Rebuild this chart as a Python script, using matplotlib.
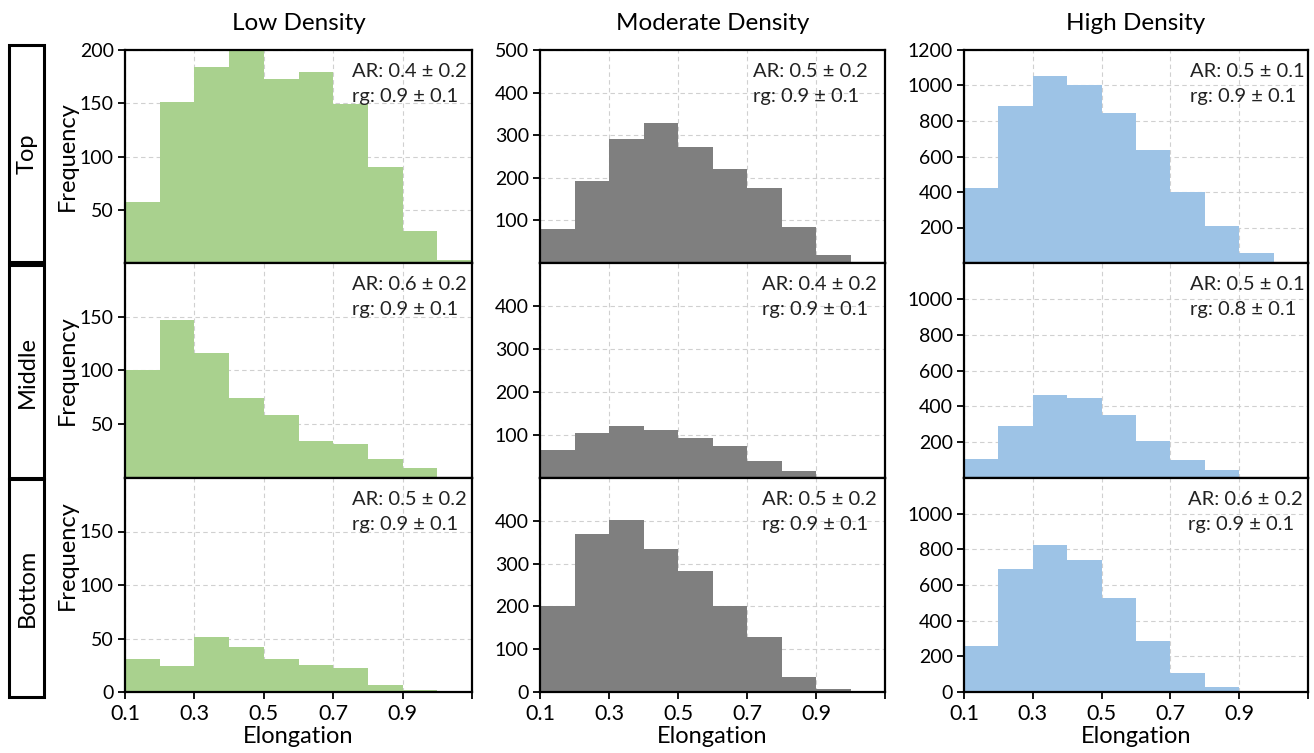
import matplotlib
matplotlib.use("Agg")
import matplotlib.pyplot as plt
from matplotlib.patches import Rectangle
import numpy as np

plt.rcParams['font.family'] = ['Lato', 'DejaVu Sans']

# ---- data ----
bin_edges = [0.1, 0.2, 0.3, 0.4, 0.5, 0.6, 0.7, 0.8, 0.9, 1.0, 1.1]
col_titles = ["Low Density", "Moderate Density", "High Density"]
row_titles = ["Top", "Middle", "Bottom"]

low_top = [57, 151, 184, 200, 173, 179, 149, 90, 30, 2.5]
low_middle = [100, 147, 116, 74, 59, 34, 32, 18, 9, 0]
low_bottom = [31, 24, 51, 42.5, 31, 25, 22, 7, 1.5, 0]

mod_top = [80, 192, 292, 328, 273, 221, 176, 84, 19, 0]
mod_middle = [66, 105, 120, 111, 93, 74, 39, 16, 2, 0]
mod_bottom = [202, 368, 402, 333, 283, 202, 129, 36, 8, 0]

high_top = [420, 884, 1054, 1004, 845, 638, 400, 209, 56, 0]
high_middle = [107, 290, 461, 448, 349, 207, 98, 44, 0, 0]
high_bottom = [258, 692, 824, 742, 525, 284, 108, 30, 0, 0]

ar_text = [["AR: 0.4 \u00b1 0.2", "AR: 0.5 \u00b1 0.2", "AR: 0.5 \u00b1 0.1"],
           ["AR: 0.6 \u00b1 0.2", "AR: 0.4 \u00b1 0.2", "AR: 0.5 \u00b1 0.1"],
           ["AR: 0.5 \u00b1 0.2", "AR: 0.5 \u00b1 0.2", "AR: 0.6 \u00b1 0.2"]]
rg_text = [["rg: 0.9 \u00b1 0.1", "rg: 0.9 \u00b1 0.1", "rg: 0.9 \u00b1 0.1"],
           ["rg: 0.9 \u00b1 0.1", "rg: 0.9 \u00b1 0.1", "rg: 0.8 \u00b1 0.1"],
           ["rg: 0.9 \u00b1 0.1", "rg: 0.9 \u00b1 0.1", "rg: 0.9 \u00b1 0.1"]]

y_max = [200, 500, 1200]
y_ticks = [
    [[50, 100, 150, 200], [100, 200, 300, 400, 500], [200, 400, 600, 800, 1000, 1200]],
    [[50, 100, 150], [100, 200, 300, 400], [200, 400, 600, 800, 1000]],
    [[0, 50, 100, 150], [0, 100, 200, 300, 400], [0, 200, 400, 600, 800, 1000]],
]
x_ticks = [0.1, 0.3, 0.5, 0.7, 0.9, 1.1]
x_ticklabels = ["0.1", "0.3", "0.5", "0.7", "0.9", ""]

counts = [[low_top, mod_top, high_top],
          [low_middle, mod_middle, high_middle],
          [low_bottom, mod_bottom, high_bottom]]
colors = ["#a9d18e", "#7f7f7f", "#9dc3e6"]

# ---- layout (pixels) ----
W, H = 1314, 753
fig = plt.figure(figsize=(W / 100, H / 100), dpi=100)
col_x = [(125, 472), (540, 885), (964, 1308)]
row_y = [(50, 263), (263, 478), (478, 692)]
text_x = [[0.985, 0.95, 0.99], [0.985, 0.975, 0.99], [0.985, 0.975, 0.985]]

def fx(px):
    return px / W

def fy(py):
    return 1 - py / H

widths = np.diff(bin_edges)
for r in range(3):
    for c in range(3):
        x0, x1 = col_x[c]
        y0, y1 = row_y[r]
        ax = fig.add_axes([fx(x0), fy(y1), fx(x1) - fx(x0), (y1 - y0) / H])
        ax.set_axisbelow(True)
        ax.bar(bin_edges[:-1], counts[r][c], width=widths, align='edge',
               color=colors[c], edgecolor='none', linewidth=0)
        ax.set_xlim(0.1, 1.1)
        ax.set_ylim(0, y_max[c])
        ax.set_xticks(x_ticks)
        ax.set_yticks(y_ticks[r][c])
        ax.grid(True, linestyle=(0, (4, 3)), color='#d0d0d0', linewidth=0.8)
        ax.tick_params(direction='out', length=5, width=1.3, labelsize=14,
                       colors='black', pad=3)
        ax.tick_params(axis='x', labelsize=15.5, pad=4)
        for s in ax.spines.values():
            s.set_linewidth(1.6)
            s.set_color('black')
        if r == 2:
            ax.set_xticklabels(x_ticklabels)
            ax.set_xlabel("Elongation", fontsize=17, labelpad=1)
        else:
            ax.tick_params(axis='x', labelbottom=False)
        if c == 0:
            ax.set_ylabel("Frequency", fontsize=17)
            ax.yaxis.set_label_coords(-0.135, 0.64 if r == 2 else 0.5)
        ax.text(text_x[r][c], 0.94, ar_text[r][c] + "\n" + rg_text[r][c],
                transform=ax.transAxes, ha='right', va='top',
                multialignment='left', fontsize=14.5, color='#222222',
                linespacing=1.6)

# column titles
for c in range(3):
    x0, x1 = col_x[c]
    fig.text(fx((x0 + x1) / 2), fy(24), col_titles[c], ha='center', va='center',
             fontsize=17.5)

# row label boxes
box_y = [(45, 262), (265, 478), (479, 697)]
for r in range(3):
    y0, y1 = box_y[r]
    fig.patches.append(Rectangle((fx(9), fy(y1)), fx(44) - fx(9), (y1 - y0) / H,
                                 transform=fig.transFigure, fill=False,
                                 edgecolor='black', linewidth=2.2))
    fig.text(fx(27), fy((y0 + y1) / 2), row_titles[r], rotation=90,
             ha='center', va='center', fontsize=17)

fig.savefig("out.png", dpi=100, facecolor='white')
